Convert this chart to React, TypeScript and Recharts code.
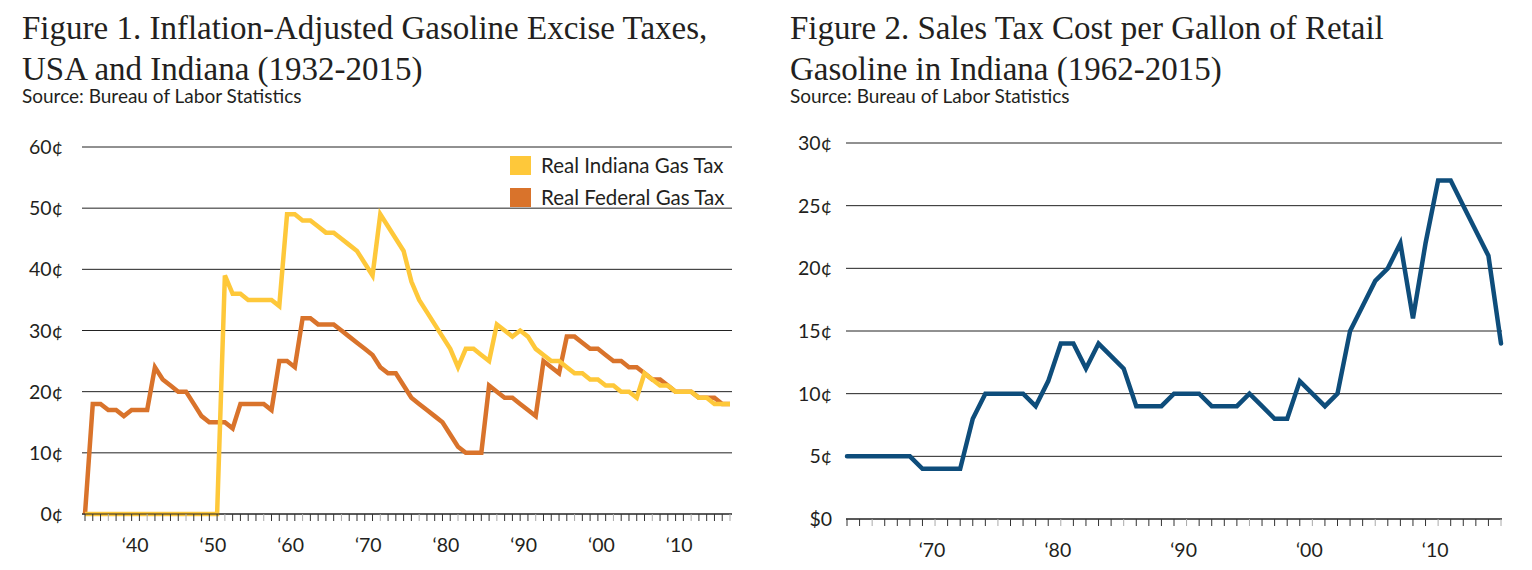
import { LineChart, Line, XAxis, YAxis, CartesianGrid } from "recharts";

// Figure 1: yearly series, 1932-2015 (cents, inflation adjusted)
const FIG1_START = 1932;
const indianaGasTax = [
  0, 0, 0, 0, 0, 0, 0, 0, 0, 0, 0, 0, 0, 0, 0, 0, 0, 0,
  39, 36, 36, 35, 35, 35, 35, 34, 49, 49, 48, 48, 47, 46, 46, 45, 44, 43,
  41, 39, 49, 47, 45, 43, 38, 35, 33, 31, 29, 27, 24, 27, 27, 26, 25, 31,
  30, 29, 30, 29, 27, 26, 25, 25, 24, 23, 23, 22, 22, 21, 21, 20, 20, 19,
  23, 22, 21, 21, 20, 20, 20, 19, 19, 18, 18, 18,
];
const federalGasTax = [
  0, 18, 18, 17, 17, 16, 17, 17, 17, 24, 22, 21, 20, 20, 18, 16, 15, 15,
  15, 14, 18, 18, 18, 18, 17, 25, 25, 24, 32, 32, 31, 31, 31, 30, 29, 28,
  27, 26, 24, 23, 23, 21, 19, 18, 17, 16, 15, 13, 11, 10, 10, 10, 21, 20,
  19, 19, 18, 17, 16, 25, 24, 23, 29, 29, 28, 27, 27, 26, 25, 25, 24, 24,
  23, 22, 22, 21, 20, 20, 20, 19, 19, 19, 18, 18,
];
const fig1YTicks = [0, 10, 20, 30, 40, 50, 60];
const fig1Decades = [1940, 1950, 1960, 1970, 1980, 1990, 2000, 2010];

// Figure 2: sales tax per gallon, 1963-2015 (cents)
const FIG2_START = 1963;
const salesTaxPerGallon = [
  5, 5, 5, 5, 5, 5, 4, 4, 4, 4, 8, 10, 10, 10, 10, 9, 11, 14, 14, 12, 14,
  13, 12, 9, 9, 9, 10, 10, 10, 9, 9, 9, 10, 9, 8, 8, 11, 10, 9, 10, 15,
  17, 19, 20, 22, 16, 22, 27, 27, 25, 23, 21, 14,
];
const fig2YTicks = [0, 5, 10, 15, 20, 25, 30];
const fig2Decades = [1970, 1980, 1990, 2000, 2010];

const YELLOW = "#FEC83A";
const ORANGE = "#D9732B";
const BLUE = "#0E4D7B";
const INK = "#231f20";
const SANS = "Lato, 'Open Sans', sans-serif";
const SERIF = "'Liberation Serif', 'Times New Roman', serif";

const fig1Data = indianaGasTax.map((v, i) => ({
  year: FIG1_START + i,
  indiana: v,
  federal: federalGasTax[i],
}));
const fig2Data = salesTaxPerGallon.map((v, i) => ({
  year: FIG2_START + i,
  sales: v,
}));

const yearsOf = (start: number, n: number) =>
  Array.from({ length: n }, (_, i) => start + i);

function YearTick(props: any) {
  const { x, y, payload, decades, dx } = props;
  const year = payload.value as number;
  const light = year % 5 === 0;
  return (
    <g>
      <line x1={x} x2={x} y1={y} y2={y + 7} stroke={light ? "#aaaaaa" : "#333"} strokeWidth={1} />
      {decades.includes(year) && (
        <text
          x={x + dx}
          y={y + 38}
          textAnchor="middle"
          fontFamily={SANS}
          fontSize={19.5}
          fill={INK}
        >
          {"\u2018" + String(year).slice(2)}
        </text>
      )}
    </g>
  );
}

function CentTick(props: any) {
  const { y, payload, right, dollarZero } = props;
  const v = payload.value as number;
  const label = v === 0 && dollarZero ? "$0" : `${v}\u00a2`;
  return (
    <text x={right} y={y} dy="0.36em" textAnchor="end" fontFamily={SANS} fontSize={19.5} fill={INK}>
      {label}
    </text>
  );
}

function Title({ left, lines }: { left: number; lines: string[] }) {
  return (
    <div style={{ position: "absolute", left, top: 0 }}>
      <div
        style={{
          position: "absolute",
          left: 0,
          top: 8,
          fontFamily: SERIF,
          fontSize: 33,
          lineHeight: "41px",
          whiteSpace: "nowrap",
          color: INK,
        }}
      >
        {lines.map((l) => (
          <div key={l}>{l}</div>
        ))}
      </div>
      <div
        style={{
          position: "absolute",
          left: 0,
          top: 85,
          fontFamily: SANS,
          fontSize: 19,
          lineHeight: 1.2,
          whiteSpace: "nowrap",
          color: INK,
        }}
      >
        Source: Bureau of Labor Statistics
      </div>
    </div>
  );
}

function LegendItem({ color, label, top }: { color: string; label: string; top: number }) {
  return (
    <div style={{ position: "absolute", left: 510, top, display: "flex", alignItems: "center" }}>
      <div style={{ width: 21, height: 19, background: color }} />
      <span style={{ marginLeft: 10, fontFamily: SANS, fontSize: 20.5, color: INK, whiteSpace: "nowrap" }}>
        {label}
      </span>
    </div>
  );
}

export default function App() {
  return (
    <div
      style={{
        position: "absolute",
        left: 0,
        top: 0,
        width: 1532,
        height: 570,
        background: "#fff",
        overflow: "hidden",
      }}
    >
      <Title left={22} lines={["Figure 1. Inflation-Adjusted Gasoline Excise Taxes,", "USA and Indiana (1932-2015)"]} />
      <Title left={790} lines={["Figure 2. Sales Tax Cost per Gallon of Retail", "Gasoline in Indiana (1962-2015)"]} />

      <div style={{ position: "absolute", left: 0, top: 0 }}>
        <LineChart width={766} height={570} data={fig1Data} margin={{ top: 147, right: 34, bottom: 16, left: 22 }}>
          <CartesianGrid vertical={false} stroke="#222" strokeWidth={1} />
          <XAxis
            dataKey="year"
            type="number"
            domain={[FIG1_START, 2015]}
            ticks={yearsOf(FIG1_START, indianaGasTax.length)}
            interval={0}
            padding={{ left: 3, right: 2 }}
            height={40}
            tickSize={0}
            tickMargin={0}
            tickLine={false}
            axisLine={{ stroke: "#222" }}
            tick={<YearTick decades={fig1Decades} dx={-12} />}
          />
          <YAxis
            width={60}
            domain={[0, 60]}
            ticks={fig1YTicks}
            interval={0}
            axisLine={false}
            tickLine={false}
            tick={<CentTick right={63} />}
          />
          <Line
            dataKey="federal"
            stroke={ORANGE}
            strokeWidth={4.5}
            dot={false}
            activeDot={false}
            isAnimationActive={false}
          />
          <Line
            dataKey="indiana"
            stroke={YELLOW}
            strokeWidth={4.5}
            dot={false}
            activeDot={false}
            isAnimationActive={false}
          />
        </LineChart>
      </div>

      <LegendItem color={YELLOW} label="Real Indiana Gas Tax" top={153} />
      <LegendItem color={ORANGE} label="Real Federal Gas Tax" top={185} />

      <div style={{ position: "absolute", left: 766, top: 0 }}>
        <LineChart width={766} height={570} data={fig2Data} margin={{ top: 143, right: 30, bottom: 11, left: 20 }}>
          <CartesianGrid vertical={false} stroke="#222" strokeWidth={1} />
          <XAxis
            dataKey="year"
            type="number"
            domain={[FIG2_START, 2015]}
            ticks={yearsOf(FIG2_START, salesTaxPerGallon.length)}
            interval={0}
            padding={{ left: 1, right: 1 }}
            height={40}
            tickSize={0}
            tickMargin={0}
            tickLine={false}
            axisLine={{ stroke: "#222" }}
            tick={<YearTick decades={fig2Decades} dx={-3} />}
          />
          <YAxis
            width={60}
            domain={[0, 30]}
            ticks={fig2YTicks}
            interval={0}
            axisLine={false}
            tickLine={false}
            tick={<CentTick right={66} dollarZero />}
          />
          <Line
            dataKey="sales"
            stroke={BLUE}
            strokeWidth={4.5}
            strokeLinecap="round"
            dot={false}
            activeDot={false}
            isAnimationActive={false}
          />
        </LineChart>
      </div>
    </div>
  );
}
